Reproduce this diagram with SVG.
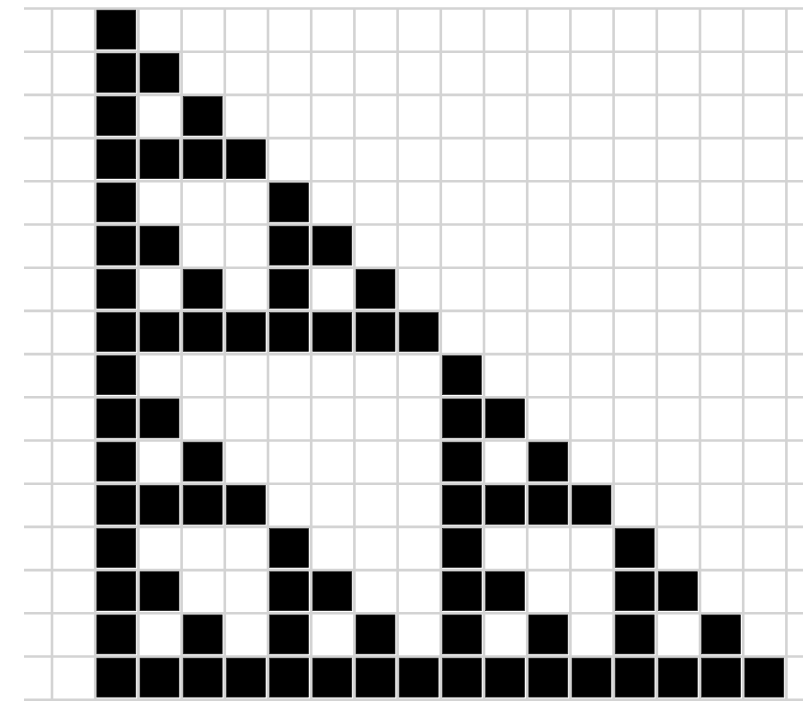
<svg xmlns="http://www.w3.org/2000/svg" width="803" height="701" viewBox="0 0 803 701">
<style>
.grid{stroke:#d3d3d3;stroke-width:2.6;fill:none}
.on{fill:#000;stroke:#222;stroke-width:0.6}
</style>
<defs><rect id="b" class="on" width="39" height="39"/></defs>
<rect width="803" height="701" fill="#fff"/>
<g id="grid">
<path class="grid" d="M52,8.5V701M95.2,8.5V701M138.4,8.5V701M181.6,8.5V701M224.8,8.5V701M268,8.5V701M311.2,8.5V701M354.4,8.5V701M397.6,8.5V701M440.8,8.5V701M484,8.5V701M527.2,8.5V701M570.4,8.5V701M613.6,8.5V701M656.8,8.5V701M700,8.5V701M743.2,8.5V701M786.4,8.5V701"/>
<path class="grid" d="M24,8.5H803M24,51.7H803M24,94.9H803M24,138.1H803M24,181.3H803M24,224.5H803M24,267.7H803M24,310.9H803M24,354.1H803M24,397.3H803M24,440.5H803M24,483.7H803M24,526.9H803M24,570.1H803M24,613.3H803M24,656.5H803M24,699.7H803"/>
</g>
<g id="cells">
<g id="r0" transform="translate(0,10.1)"><use href="#b" x="96.8"/></g>
<g id="r1" transform="translate(0,53.3)"><use href="#b" x="96.8"/><use href="#b" x="140"/></g>
<g id="r2" transform="translate(0,96.5)"><use href="#b" x="96.8"/><use href="#b" x="183.2"/></g>
<g id="r3" transform="translate(0,139.7)"><use href="#b" x="96.8"/><use href="#b" x="140"/><use href="#b" x="183.2"/><use href="#b" x="226.4"/></g>
<g id="r4" transform="translate(0,182.9)"><use href="#b" x="96.8"/><use href="#b" x="269.6"/></g>
<g id="r5" transform="translate(0,226.1)"><use href="#b" x="96.8"/><use href="#b" x="140"/><use href="#b" x="269.6"/><use href="#b" x="312.8"/></g>
<g id="r6" transform="translate(0,269.3)"><use href="#b" x="96.8"/><use href="#b" x="183.2"/><use href="#b" x="269.6"/><use href="#b" x="356"/></g>
<g id="r7" transform="translate(0,312.5)"><use href="#b" x="96.8"/><use href="#b" x="140"/><use href="#b" x="183.2"/><use href="#b" x="226.4"/><use href="#b" x="269.6"/><use href="#b" x="312.8"/><use href="#b" x="356"/><use href="#b" x="399.2"/></g>
<g id="r8" transform="translate(0,355.7)"><use href="#b" x="96.8"/><use href="#b" x="442.4"/></g>
<g id="r9" transform="translate(0,398.9)"><use href="#b" x="96.8"/><use href="#b" x="140"/><use href="#b" x="442.4"/><use href="#b" x="485.6"/></g>
<g id="r10" transform="translate(0,442.1)"><use href="#b" x="96.8"/><use href="#b" x="183.2"/><use href="#b" x="442.4"/><use href="#b" x="528.8"/></g>
<g id="r11" transform="translate(0,485.3)"><use href="#b" x="96.8"/><use href="#b" x="140"/><use href="#b" x="183.2"/><use href="#b" x="226.4"/><use href="#b" x="442.4"/><use href="#b" x="485.6"/><use href="#b" x="528.8"/><use href="#b" x="572"/></g>
<g id="r12" transform="translate(0,528.5)"><use href="#b" x="96.8"/><use href="#b" x="269.6"/><use href="#b" x="442.4"/><use href="#b" x="615.2"/></g>
<g id="r13" transform="translate(0,571.7)"><use href="#b" x="96.8"/><use href="#b" x="140"/><use href="#b" x="269.6"/><use href="#b" x="312.8"/><use href="#b" x="442.4"/><use href="#b" x="485.6"/><use href="#b" x="615.2"/><use href="#b" x="658.4"/></g>
<g id="r14" transform="translate(0,614.9)"><use href="#b" x="96.8"/><use href="#b" x="183.2"/><use href="#b" x="269.6"/><use href="#b" x="356"/><use href="#b" x="442.4"/><use href="#b" x="528.8"/><use href="#b" x="615.2"/><use href="#b" x="701.6"/></g>
<g id="r15" transform="translate(0,658.1)"><use href="#b" x="96.8"/><use href="#b" x="140"/><use href="#b" x="183.2"/><use href="#b" x="226.4"/><use href="#b" x="269.6"/><use href="#b" x="312.8"/><use href="#b" x="356"/><use href="#b" x="399.2"/><use href="#b" x="442.4"/><use href="#b" x="485.6"/><use href="#b" x="528.8"/><use href="#b" x="572"/><use href="#b" x="615.2"/><use href="#b" x="658.4"/><use href="#b" x="701.6"/><use href="#b" x="744.8"/></g>
</g>
</svg>
